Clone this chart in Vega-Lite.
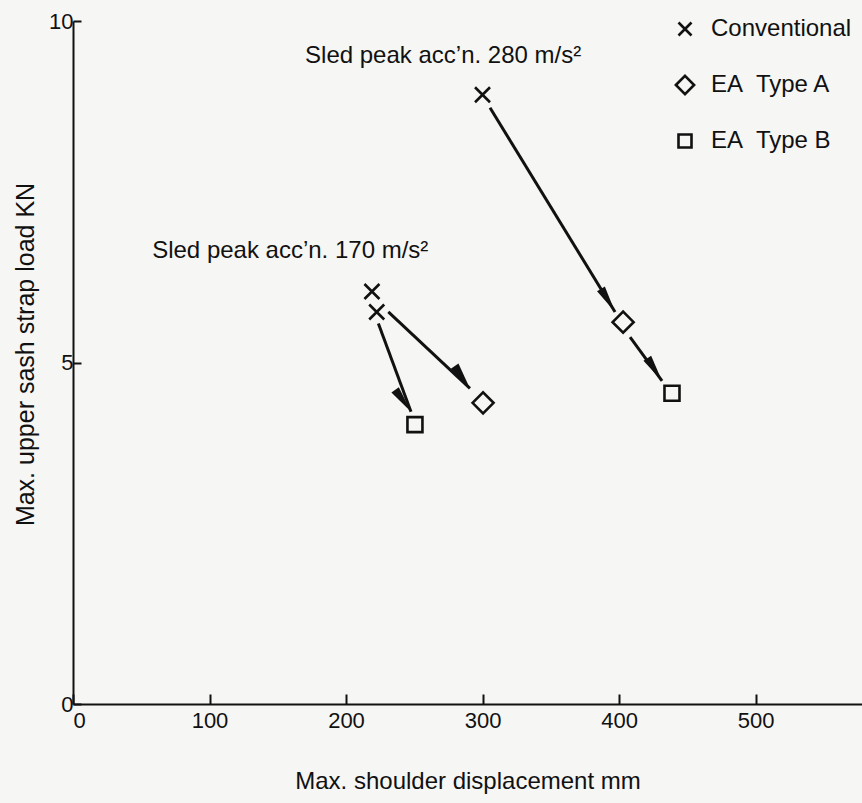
{
  "$schema": "https://vega.github.io/schema/vega-lite/v6.json",
  "width": 789,
  "height": 683,
  "autosize": "none",
  "padding": {"left": 73, "top": 21, "right": 0, "bottom": 99},
  "background": "#f6f6f4",
  "config": {
    "view": {"stroke": null},
    "font": "Liberation Sans",
    "axis": {"domainColor": "#111", "domainWidth": 2, "tickColor": "#111", "tickWidth": 2, "labelColor": "#111", "titleColor": "#111", "grid": false, "labelFont": "Liberation Sans", "titleFont": "Liberation Sans", "titleFontWeight": "normal"}
  },
  "datasets": {
    "points": [
      {"series": "Conventional", "x": 300, "y": 8.92},
      {"series": "Conventional", "x": 219, "y": 6.04},
      {"series": "Conventional", "x": 222.5, "y": 5.74},
      {"series": "EA  Type A", "x": 403, "y": 5.59},
      {"series": "EA  Type A", "x": 300.4, "y": 4.41},
      {"series": "EA  Type B", "x": 438.8, "y": 4.55},
      {"series": "EA  Type B", "x": 250.5, "y": 4.09}
    ],
    "arrows": [
      {"arrow": "a1", "x": 305.5, "y": 8.73, "x2": 397.1, "y2": 5.74},
      {"arrow": "a2", "x": 408.1, "y": 5.37, "x2": 431.5, "y2": 4.73},
      {"arrow": "a3", "x": 231.0, "y": 5.74, "x2": 290.8, "y2": 4.62},
      {"arrow": "a4", "x": 223.7, "y": 5.57, "x2": 247.6, "y2": 4.28}
    ],
    "notes": [
      {"label": "Sled peak acc’n. 170 m/s²", "x": 58, "y": 6.53},
      {"label": "Sled peak acc’n. 280 m/s²", "x": 170, "y": 9.38}
    ]
  },
  "layer": [
    {
      "data": {"name": "arrows"},
      "mark": {"type": "rule", "color": "#111", "strokeWidth": 3},
      "encoding": {
        "x": {"field": "x", "type": "quantitative", "scale": {"domain": [0, 578], "nice": false, "zero": false},
          "axis": {"values": [0, 100, 200, 300, 400, 500], "format": "d", "tickSize": -10, "labelPadding": 16, "labelFontSize": 22, "title": "Max. shoulder displacement mm", "titleFontSize": 24, "titlePadding": 38}},
        "y": {"field": "y", "type": "quantitative", "scale": {"domain": [0, 10], "nice": false},
          "axis": {"values": [0, 5, 10], "format": "d", "tickSize": -8, "labelPadding": 8, "labelFontSize": 22, "title": "Max. upper sash strap load KN", "titleFontSize": 25, "titleX": -48, "titleY": 333, "titleBaseline": "middle"}},
        "x2": {"field": "x2"},
        "y2": {"field": "y2"}
      }
    },
    {
      "data": {"name": "arrows"},
      "mark": {"type": "point", "shape": "M-0.34,-2L0.34,-2L0,0Z", "filled": true, "color": "#111", "size": 729, "opacity": 1},
      "encoding": {
        "x": {"field": "x2", "type": "quantitative"},
        "y": {"field": "y2", "type": "quantitative"},
        "angle": {"field": "arrow", "type": "nominal", "legend": null,
          "scale": {"domain": ["a1", "a2", "a3", "a4"], "range": [-31.5, -36, -46.8, -20.3]}}
      }
    },
    {
      "data": {"name": "points"},
      "mark": {"type": "point", "filled": false, "color": "#111", "strokeWidth": 2.6, "opacity": 1, "size": 225},
      "encoding": {
        "x": {"field": "x", "type": "quantitative"},
        "y": {"field": "y", "type": "quantitative"},
        "shape": {"field": "series", "type": "nominal",
          "scale": {"domain": ["Conventional", "EA  Type A", "EA  Type B"], "range": ["M-1,-1L1,1M1,-1L-1,1", "M-1.4,0L0,-1.4L1.4,0L0,1.4Z", "M-1,-1L1,-1L1,1L-1,1Z"]},
          "legend": {"orient": "none", "legendX": 600, "legendY": -4, "title": null, "labelFont": "Liberation Sans", "labelFontSize": 24, "labelColor": "#111", "rowPadding": 29, "labelOffset": 14, "symbolSize": 169, "symbolStrokeWidth": 2.6, "symbolStrokeColor": "#111", "symbolFillColor": "transparent", "padding": 0, "labelExpr": "replace(datum.label, 'EA  ', 'EA\u00a0 ')"}}
      }
    },
    {
      "data": {"name": "notes"},
      "mark": {"type": "text", "align": "left", "baseline": "alphabetic", "font": "Liberation Sans", "fontSize": 24, "color": "#111"},
      "encoding": {
        "x": {"field": "x", "type": "quantitative"},
        "y": {"field": "y", "type": "quantitative"},
        "text": {"field": "label"}
      }
    }
  ]
}
